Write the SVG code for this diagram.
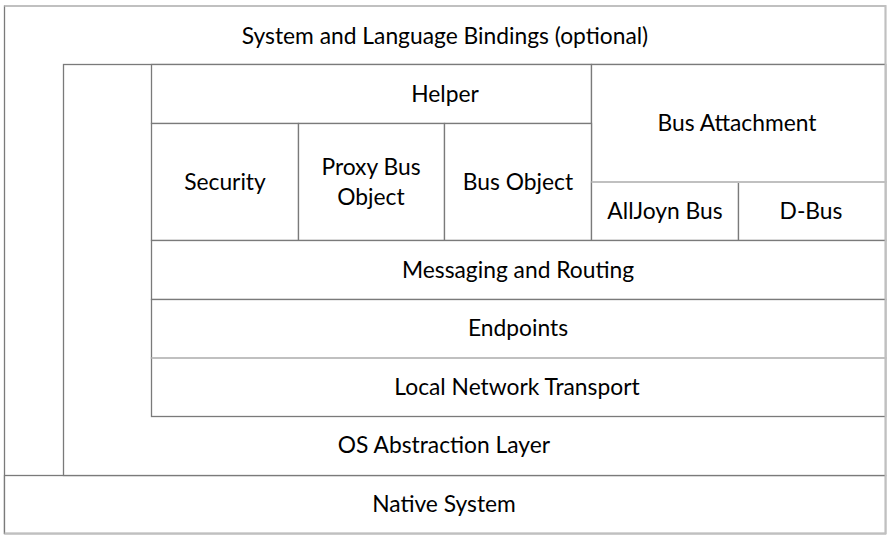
<svg xmlns="http://www.w3.org/2000/svg" width="892" height="538" viewBox="0 0 892 538">
<style>
.b{fill:#ffffff;stroke:#7a7a7a;stroke-width:1.3}
.l{stroke:#c0c0c0;stroke-width:1.8;fill:none}
text{font-family:Lato,"Open Sans","Liberation Sans",sans-serif;font-size:22.8px;fill:#000;text-anchor:middle;dominant-baseline:central}
</style>
<rect width="892" height="538" fill="#ffffff"/>
<g id="bindings"><rect class="b" x="4.5" y="6" width="881" height="527.5"/><text x="445" y="35">System and Language Bindings (optional)</text></g>
<g id="native"><rect class="b" x="4.5" y="475.5" width="881" height="58"/><text x="444" y="503">Native System</text></g>
<g id="os"><rect class="b" x="63.5" y="64.5" width="822" height="411"/><text x="444" y="444">OS Abstraction Layer</text></g>
<g id="helper"><rect class="b" x="151.5" y="64.5" width="440" height="59"/><text x="445" y="93">Helper</text></g>
<g id="busattach"><rect class="b" x="591.5" y="64.5" width="294" height="117.5"/><text x="737" y="122">Bus Attachment</text></g>
<g id="security"><rect class="b" x="151.5" y="123.5" width="147" height="117"/><text x="225" y="181">Security</text></g>
<g id="proxy"><rect class="b" x="298.5" y="123.5" width="146" height="117"/><text x="371" y="166">Proxy Bus</text><text x="371" y="196">Object</text></g>
<g id="busobject"><rect class="b" x="444.5" y="123.5" width="147" height="117"/><text x="518" y="181">Bus Object</text></g>
<g id="alljoyn"><rect class="b" x="591.5" y="182" width="147" height="58.5"/><text x="665" y="210">AllJoyn Bus</text></g>
<g id="dbus"><rect class="b" x="738.5" y="182" width="147" height="58.5"/><text x="811" y="210">D-Bus</text></g>
<g id="messaging"><rect class="b" x="151.5" y="240.5" width="734" height="59"/><text x="518" y="269">Messaging and Routing</text></g>
<g id="endpoints"><rect class="b" x="151.5" y="299.5" width="734" height="58.5"/><text x="518" y="327">Endpoints</text></g>
<g id="transport"><rect class="b" x="151.5" y="358" width="734" height="58.5"/><text x="517" y="386">Local Network Transport</text></g>
<g id="connectors">
<path class="l" d="M4.5 6H885.5V533.5H4.5"/>
<path class="l" d="M591.5 182H885.5"/>
<path class="l" d="M151.5 358H885.5"/>
</g>
</svg>
